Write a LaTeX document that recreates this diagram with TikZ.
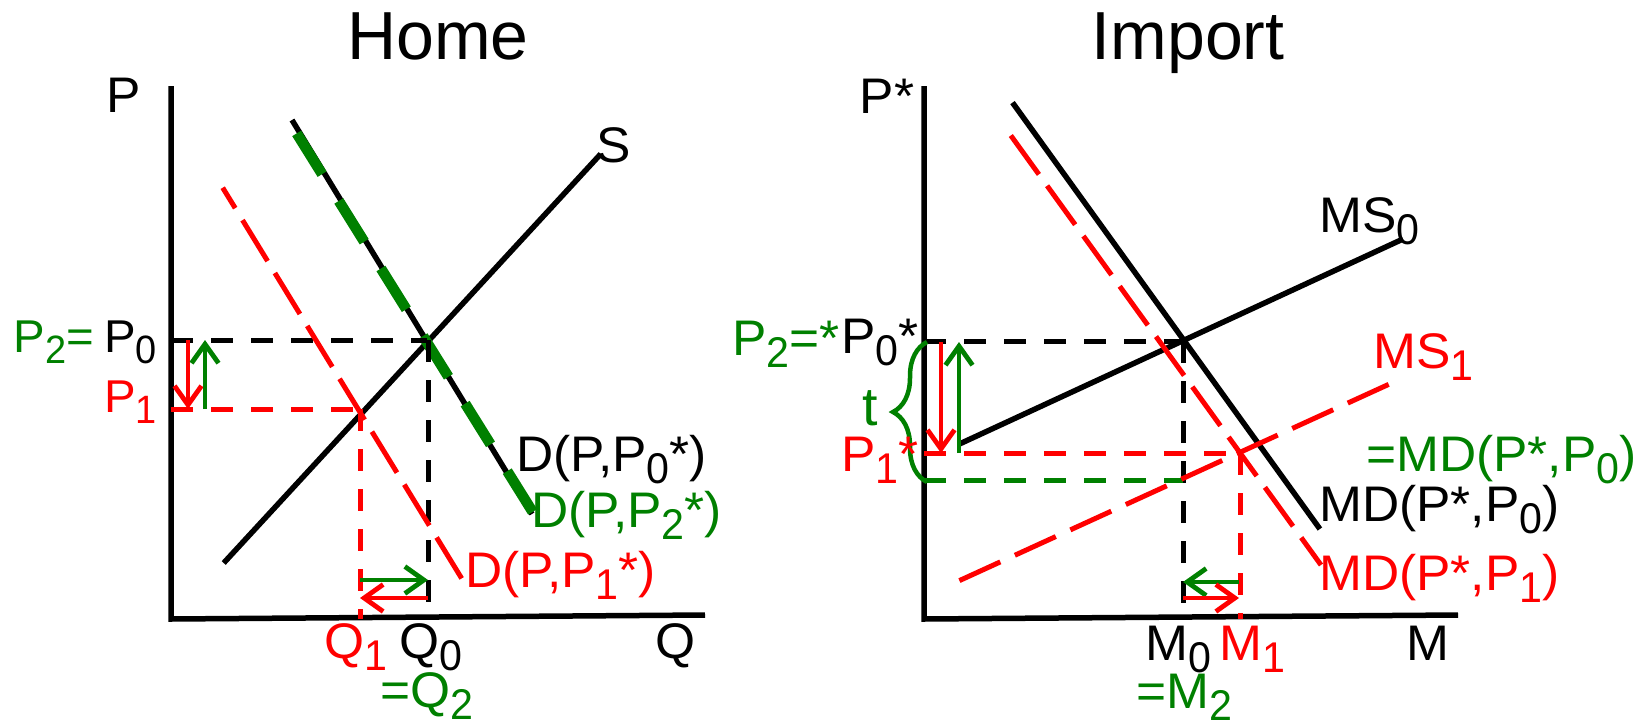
\documentclass[tikz,border=0pt]{standalone}
\usepackage{fontspec}
\setmainfont{Liberation Sans}
\newfontfamily\labfont{Liberation Sans}[FakeStretch=1.03]
\usepackage{graphicx}
\usetikzlibrary{arrows.meta,decorations.pathreplacing}
\definecolor{gr}{RGB}{0,128,0}
\newcommand\lo[1]{\raisebox{-0.25em}{\scalebox{0.8}[0.86]{#1}}}
\begin{document}
\begin{tikzpicture}[x=1pt,y=-1pt,
  lab/.style={inner sep=0pt, anchor=base west, font=\labfont\fontsize{50}{54}\selectfont},
  plab/.style={lab, font=\labfont\fontsize{46}{50}\selectfont},
  ttl/.style={inner sep=0pt, anchor=base, font=\fontsize{68}{72}\selectfont},
  axis/.style={line width=5.5pt, line join=miter},
  curve/.style={line width=5.5pt},
  sdash/.style={line width=5pt, dash pattern=on 22pt off 18pt},
  ldash/.style={line width=5pt, dash pattern=on 48pt off 14pt},
  gdash/.style={line width=10.5pt, gr, dash pattern=on 48pt off 31.6pt},
  arr/.style={line width=4.8pt, -{Straight Barb[length=19pt,width=27pt,line width=4.8pt]}}
]
\useasboundingbox (0,0) rectangle (1642,726);

% ---------------- Home panel ----------------
\node[ttl] (home) at (438,59) {Home};
\coordinate (Htop) at (171,86);
\coordinate (Horig) at (171,619);
\coordinate (Hend) at (705,615);
\draw[axis] (Htop) -- (Horig) -- (Hend);

\coordinate (Sa) at (223.7,563);
\coordinate (Sb) at (600.7,154);
\draw[curve] (Sa) -- (Sb);

\coordinate (Da) at (292,120);
\coordinate (Db) at (532,514);
\draw[curve] (Da) -- (Db);
\coordinate (Ga) at (296.7,133.4);
\coordinate (Gb) at (533.7,513.6);
\draw[gdash] (Ga) -- (Gb);

\coordinate (Ra) at (222.7,187.7);
\coordinate (Rb) at (463,580.6);

\coordinate (E0) at (427,340);
\coordinate (E1) at (360,409);
\coordinate (HP0) at (171,340);
\coordinate (HP1) at (171,409);
\coordinate (HQ0) at (428,619);
\coordinate (HQ1) at (360,619);

\draw[sdash] (HP0) -- (E0);
\draw[sdash] (E0 -| HQ0) -- (HQ0);
\draw[sdash, red] (HP1) -- (E1);
\draw[sdash, red] (E1) -- (HQ1);
\draw[ldash, red, dash phase=24pt] (Ra) -- (Rb);

\coordinate (a1) at (188,340); \coordinate (a2) at (188,409);
\draw[arr, red] (a1) -- (a2);
\coordinate (a3) at (205,409); \coordinate (a4) at (205,340);
\draw[arr, gr] (a3) -- (a4);
\coordinate (a5) at (360,580); \coordinate (a6) at (428,580);
\draw[arr, gr] (a5) -- (a6);
\coordinate (a7) at (428,598); \coordinate (a8) at (360,598);
\draw[arr, red] (a7) -- (a8);

\node[lab, anchor=base] (lP) at (123.5,112) {P};
\node[lab, anchor=base] (lS) at (614,162) {S};
\node[plab, gr, anchor=base east] (lP2) at (94,352) {P\lo{2}=};
\node[plab] (lP0) at (104,352) {P\lo{0}};
\node[plab, red] (lP1) at (104,412) {P\lo{1}};
\node[lab] (lD0) at (516,471) {D(P,P\lo{0}*)};
\node[lab, gr] (lD2) at (531,527) {D(P,P\lo{2}*)};
\node[lab, red] (lD1) at (465,587) {D(P,P\lo{1}*)};
\node[lab, red] (lQ1) at (324,658) {Q\lo{1}};
\node[lab] (lQ0) at (399,658) {Q\lo{0}};
\node[lab, gr] (lQ2) at (380,707) {=Q\lo{2}};
\node[lab] (lQ) at (655,658) {Q};

% ---------------- Import panel ----------------
\node[ttl] (import) at (1188,59) {Import};
\coordinate (Itop) at (924,86);
\coordinate (Iorig) at (924,619);
\coordinate (Iend) at (1458,615);
\draw[axis] (Itop) -- (Iorig) -- (Iend);

\coordinate (MDa) at (1012.5,102.6);
\coordinate (MDb) at (1319.9,529);
\draw[curve] (MDa) -- (MDb);
\coordinate (MSa) at (959.4,444);
\coordinate (MSb) at (1403,239);
\draw[curve] (MSa) -- (MSb);

\coordinate (RMa) at (1010.8,135.5);
\coordinate (RMb) at (1321,565);
\coordinate (RSa) at (959.4,580.6);
\coordinate (RSb) at (1402.6,378);

\coordinate (F0) at (1183,341);
\coordinate (F1) at (1240,453);
\coordinate (IP0) at (924,341);
\coordinate (IP1) at (924,453);
\coordinate (IP2) at (924,480);
\coordinate (IM0) at (1183,619);
\coordinate (IM1) at (1240,619);
\coordinate (IM2) at (1183,480);

\draw[sdash] (IP0) -- (F0);
\draw[sdash] (F0) -- (IM0);
\draw[sdash, red] (IP1) -- (F1);
\draw[sdash, red] (F1) -- (IM1);
\draw[sdash, gr] (IP2) -- (IM2);
\draw[ldash, red] (RMa) -- (RMb);
\draw[ldash, red, dash pattern=on 45pt off 16pt] (RSa) -- (RSb);

\coordinate (b1) at (941,342); \coordinate (b2) at (941,453);
\draw[arr, red] (b1) -- (b2);
\coordinate (b3) at (959,453); \coordinate (b4) at (959,342);
\draw[arr, gr] (b3) -- (b4);
\coordinate (b5) at (1239,582); \coordinate (b6) at (1183,582);
\draw[arr, gr] (b5) -- (b6);
\coordinate (b7) at (1183,598); \coordinate (b8) at (1239,598);
\draw[arr, red] (b7) -- (b8);

\coordinate (brB) at (927,482); \coordinate (brT) at (927,342);
\draw[gr, line width=4.5pt, decorate, decoration={brace, amplitude=34pt}] (brB) -- (brT);

\node[lab, anchor=base] (lPs) at (887,113) {P*};
\node[lab, gr, anchor=base east] (lP2s) at (840,355) {P\lo{2}=*};
\node[lab] (lP0s) at (841,353) {P\lo{0}*};
\node[lab, gr, font=\labfont\fontsize{54}{58}\selectfont] (lt) at (862,425) {t};
\node[lab, red] (lP1s) at (841,471) {P\lo{1}*};
\node[lab] (lMS0) at (1319,232) {MS\lo{0}};
\node[lab, red] (lMS1) at (1373,368) {MS\lo{1}};
\node[lab, gr] (lMDg) at (1366,471) {=MD(P*,P\lo{0})};
\node[lab] (lMD0) at (1319,521) {MD(P*,P\lo{0})};
\node[lab, red] (lMD1) at (1319,590) {MD(P*,P\lo{1})};
\node[lab] (lM0) at (1145,660) {M\lo{0}};
\node[lab, red] (lM1) at (1219,660) {M\lo{1}};
\node[lab] (lM) at (1406,660) {M};
\node[lab, gr] (lM2) at (1136,708) {=M\lo{2}};
\end{tikzpicture}
\end{document}
